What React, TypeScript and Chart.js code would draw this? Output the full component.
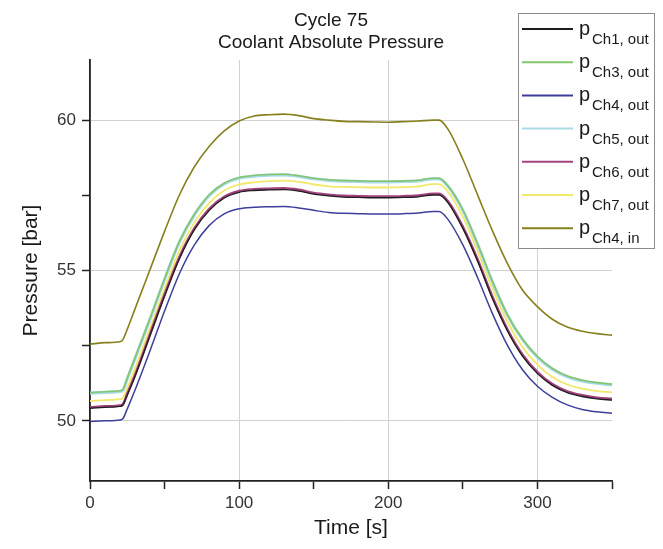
import React, { useEffect, useRef } from 'react';
import { Chart, registerables } from 'chart.js';

Chart.register(...registerables);

// ---- data ----
const times = [0, 10, 20, 22, 25, 30, 40, 50, 60, 70, 80, 90, 100, 110, 120, 130, 140, 150, 160, 170, 180, 190, 200, 210, 220, 230, 234, 240, 250, 260, 270, 280, 290, 300, 310, 320, 330, 340, 350];

const pCh1Out = [50.42, 50.45, 50.48, 50.52, 50.86, 51.46, 52.8, 54.15, 55.4, 56.36, 57.0, 57.41, 57.6, 57.66, 57.68, 57.69, 57.64, 57.54, 57.48, 57.44, 57.43, 57.42, 57.42, 57.43, 57.45, 57.51, 57.51, 57.26, 56.4, 55.3, 54.05, 52.98, 52.15, 51.57, 51.18, 50.94, 50.81, 50.73, 50.69];
const pCh3Out = [50.94, 50.97, 51.0, 51.04, 51.42, 52.07, 53.37, 54.72, 55.97, 56.87, 57.52, 57.9, 58.09, 58.16, 58.19, 58.2, 58.15, 58.07, 58.02, 57.99, 57.98, 57.97, 57.97, 57.98, 58.0, 58.07, 58.07, 57.82, 57.02, 55.87, 54.62, 53.52, 52.72, 52.14, 51.74, 51.49, 51.35, 51.27, 51.22];
const pCh4Out = [49.98, 50.0, 50.03, 50.07, 50.4, 51.0, 52.3, 53.65, 54.9, 55.85, 56.5, 56.88, 57.05, 57.1, 57.12, 57.13, 57.08, 57.0, 56.93, 56.9, 56.89, 56.88, 56.88, 56.89, 56.91, 56.96, 56.96, 56.7, 55.85, 54.75, 53.55, 52.5, 51.7, 51.15, 50.78, 50.53, 50.38, 50.3, 50.25];
const pCh5Out = [50.92, 50.95, 50.98, 51.02, 51.4, 52.05, 53.35, 54.7, 55.95, 56.85, 57.5, 57.88, 58.07, 58.14, 58.17, 58.18, 58.13, 58.05, 58.0, 57.97, 57.96, 57.95, 57.95, 57.96, 57.98, 58.05, 58.05, 57.8, 57.0, 55.85, 54.6, 53.5, 52.7, 52.12, 51.72, 51.47, 51.33, 51.25, 51.2];
const pCh6Out = [50.45, 50.48, 50.51, 50.55, 50.9, 51.5, 52.85, 54.2, 55.45, 56.4, 57.05, 57.45, 57.64, 57.7, 57.72, 57.73, 57.68, 57.58, 57.52, 57.48, 57.47, 57.46, 57.46, 57.47, 57.49, 57.55, 57.55, 57.3, 56.45, 55.35, 54.1, 53.03, 52.2, 51.62, 51.22, 50.98, 50.85, 50.77, 50.73];
const pCh7Out = [50.66, 50.69, 50.72, 50.76, 51.1, 51.72, 53.05, 54.4, 55.67, 56.6, 57.25, 57.66, 57.86, 57.93, 57.97, 57.99, 57.95, 57.86, 57.8, 57.78, 57.77, 57.76, 57.76, 57.77, 57.8, 57.87, 57.87, 57.62, 56.78, 55.62, 54.37, 53.28, 52.45, 51.87, 51.46, 51.21, 51.07, 50.99, 50.95];
const pCh4In = [52.55, 52.6, 52.63, 52.7, 53.05, 53.7, 55.0, 56.3, 57.52, 58.45, 59.13, 59.64, 59.97, 60.14, 60.18, 60.2, 60.15, 60.05, 60.0, 59.96, 59.95, 59.94, 59.93, 59.95, 59.97, 60.0, 60.0, 59.7, 58.7, 57.5, 56.3, 55.22, 54.35, 53.8, 53.38, 53.12, 52.98, 52.9, 52.85];

const seriesValues = [pCh1Out, pCh3Out, pCh4Out, pCh5Out, pCh6Out, pCh7Out, pCh4In];
const seriesMain = 'p';
const seriesSubs = ['Ch1, out', 'Ch3, out', 'Ch4, out', 'Ch5, out', 'Ch6, out', 'Ch7, out', 'Ch4, in'];

const titleLines = ['Cycle 75', 'Coolant Absolute Pressure'];
const xTitle = 'Time [s]';
const yTitle = 'Pressure [bar]';

// ---- styles ----
const seriesColors = ['#1e1e1e', '#84c46c', '#3d3f9a', '#a9dbe6', '#a2427e', '#f2e86a', '#86801e'];
const seriesWidths = [1.3, 1.6, 1.5, 3.2, 2.6, 1.8, 1.6];
const FONT = '"Liberation Sans", Arial, Helvetica, sans-serif';

const overlayPlugin = {
  id: 'overlay',
  afterDraw(chart: any) {
    const ctx = chart.ctx as CanvasRenderingContext2D;
    ctx.save();
    // title
    ctx.fillStyle = '#1a1a1a';
    ctx.font = `19px ${FONT}`;
    ctx.textAlign = 'center';
    ctx.textBaseline = 'middle';
    titleLines.forEach((t, i) => ctx.fillText(t, 331, 21 + i * 22));

    // legend
    const bx = 518, by = 13, bw = 136, bh = 235;
    ctx.fillStyle = '#ffffff';
    ctx.fillRect(bx, by, bw, bh);
    ctx.strokeStyle = '#8c8c8c';
    ctx.lineWidth = 1;
    ctx.strokeRect(bx + 0.5, by + 0.5, bw, bh);
    ctx.textAlign = 'left';
    ctx.textBaseline = 'alphabetic';
    chart.data.datasets.forEach((ds: any, i: number) => {
      const y = 29 + i * 33.2;
      ctx.strokeStyle = ds.borderColor;
      ctx.lineWidth = 2;
      ctx.beginPath();
      ctx.moveTo(522, y);
      ctx.lineTo(573, y);
      ctx.stroke();
      ctx.fillStyle = '#1a1a1a';
      ctx.font = `20px ${FONT}`;
      ctx.fillText(seriesMain, 579, y + 6);
      ctx.font = `15px ${FONT}`;
      ctx.fillText(seriesSubs[i], 592, y + 15);
    });
    ctx.restore();
  },
};

export default function App() {
  const ref = useRef<HTMLCanvasElement | null>(null);

  useEffect(() => {
    if (!ref.current) return;
    Chart.defaults.font.family = FONT;
    const chart = new Chart(ref.current, {
      type: 'line',
      data: {
        datasets: seriesValues.map((vals, i) => ({
          label: seriesMain + seriesSubs[i],
          data: times.map((t, k) => ({ x: t, y: vals[k] })),
          borderColor: seriesColors[i],
          backgroundColor: seriesColors[i],
          borderWidth: seriesWidths[i],
          pointRadius: 0,
          cubicInterpolationMode: 'monotone' as const,
          fill: false,
        })),
      },
      options: {
        responsive: false,
        animation: false,
        devicePixelRatio: 1,
        layout: { padding: { top: 60, right: 51, bottom: 0, left: 0 } },
        plugins: {
          legend: { display: false },
          title: { display: false },
          tooltip: { enabled: false },
        },
        scales: {
          x: {
            type: 'linear',
            min: 0,
            max: 350,
            afterBuildTicks: (scale: any) => {
              scale.ticks = scale.ticks.filter((t: any) => t.value % 50 === 0);
            },
            afterFit: (scale: any) => {
              scale.height = 68;
            },
            ticks: {
              stepSize: 50,
              autoSkip: false,
              maxRotation: 0,
              color: '#333',
              font: { size: 17 },
              padding: 4,
              callback: (v: any) => (Number(v) % 100 === 0 ? String(v) : ''),
            },
            grid: {
              color: (c: any) => (c.tick && c.tick.value % 100 === 0 ? '#d2d2d2' : 'transparent'),
              tickColor: '#222',
              tickLength: 8,
              tickWidth: 1.5,
              lineWidth: 1,
            },
            border: { display: true, color: '#222', width: 1.8 },
            title: {
              display: true,
              text: xTitle,
              color: '#1a1a1a',
              font: { size: 21 },
              padding: { top: 0, bottom: 8 },
            },
          },
          y: {
            type: 'linear',
            min: 48,
            max: 62,
            afterBuildTicks: (scale: any) => {
              scale.ticks = scale.ticks.filter((t: any) => Math.abs(t.value / 2.5 - Math.round(t.value / 2.5)) < 1e-6);
            },
            afterFit: (scale: any) => {
              scale.width = 90;
            },
            ticks: {
              stepSize: 2.5,
              autoSkip: false,
              color: '#333',
              font: { size: 17 },
              padding: 6,
              callback: (v: any) => (Number(v) % 5 === 0 ? String(v) : ''),
            },
            grid: {
              color: (c: any) => (c.tick && c.tick.value % 5 === 0 ? '#d2d2d2' : 'transparent'),
              tickColor: '#222',
              tickLength: 8,
              tickWidth: 1.5,
              lineWidth: 1,
            },
            border: { display: true, color: '#222', width: 1.8 },
            title: {
              display: true,
              text: yTitle,
              color: '#1a1a1a',
              font: { size: 21 },
              padding: { top: 19, bottom: 0 },
            },
          },
        },
      } as any,
      plugins: [overlayPlugin],
    });
    return () => chart.destroy();
  }, []);

  return (
    <div style={{ position: 'fixed', left: 0, top: 0, width: 663, height: 549, background: '#fff' }}>
      <canvas ref={ref} width={663} height={549} />
    </div>
  );
}
